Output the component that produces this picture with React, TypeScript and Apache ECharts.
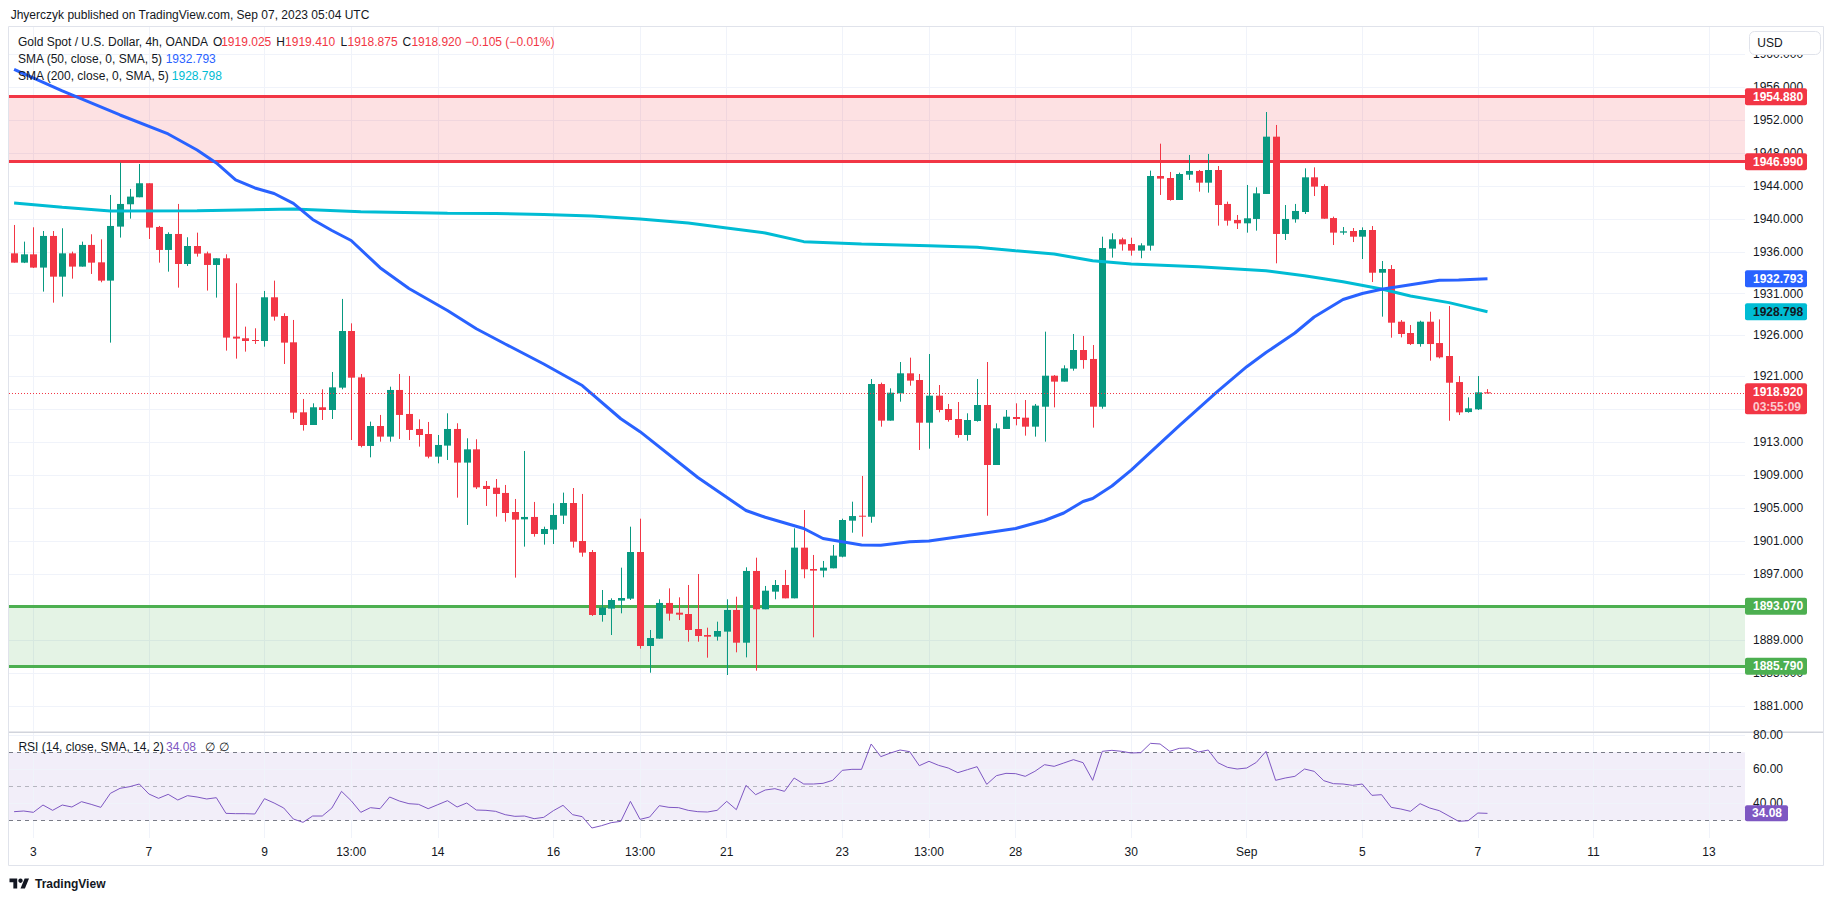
import React, { useEffect, useRef } from 'react';
import * as echarts from 'echarts';

// ---------------- data (XAUUSD 4h, OANDA; bar 0 = Aug 2 17:00 UTC, last bar = Sep 7 05:00 UTC) ----------------
const opens = [1935.88,1934.75,1935.76,1934.15,1937.99,1933.05,1935.88,1934.27,1936.90,1934.79,
1932.57,1939.12,1941.83,1942.68,1944.38,1939.08,1936.29,1938.23,1934.59,1936.77,
1935.88,1934.47,1935.28,1925.78,1925.58,1925.37,1925.25,1930.55,1928.28,1925.09,
1916.60,1915.06,1917.21,1916.88,1919.59,1926.46,1920.84,1912.52,1914.94,1913.65,
1919.31,1916.40,1914.58,1913.97,1911.22,1912.56,1914.58,1910.50,1912.11,1907.67,
1907.46,1906.82,1904.51,1903.62,1903.91,1901.84,1902.37,1904.07,1905.60,1900.99,
1899.66,1892.02,1892.79,1893.76,1894.00,1899.66,1888.26,1889.15,1893.48,1892.30,
1892.14,1890.32,1889.59,1889.39,1890.00,1892.63,1888.66,1897.36,1892.71,1894.85,
1895.66,1894.04,1900.19,1897.60,1897.40,1897.68,1899.09,1903.46,1904.06,1903.94,
1920.03,1915.59,1918.90,1921.33,1920.52,1915.34,1918.62,1917.00,1915.79,1913.85,
1915.55,1917.49,1910.21,1914.58,1916.03,1915.95,1914.86,1917.28,1921.04,1920.32,
1921.89,1924.16,1923.07,1917.28,1936.45,1937.58,1937.01,1936.21,1936.81,1945.26,
1945.02,1942.35,1945.42,1945.87,1944.45,1945.99,1941.87,1939.93,1939.52,1940.05,
1943.08,1950.03,1938.23,1940.01,1940.89,1945.10,1944.05,1940.16,1938.39,1938.59,
1937.90,1938.71,1933.53,1933.98,1927.59,1926.22,1924.88,1927.59,1925.00,1923.43,
1920.27,1916.63,1916.96,1919.025];

const highs = [1939.32,1937.30,1939.04,1938.59,1938.59,1938.92,1936.09,1937.30,1938.19,1937.58,
1942.96,1946.88,1943.69,1946.72,1944.38,1939.20,1938.43,1941.87,1937.83,1938.39,
1936.09,1935.28,1935.76,1932.25,1926.99,1926.79,1931.32,1932.57,1928.61,1927.80,
1918.22,1917.69,1919.39,1921.49,1930.35,1927.39,1921.25,1915.47,1916.28,1919.71,
1921.25,1921.01,1915.75,1915.43,1913.85,1916.48,1915.27,1913.45,1913.33,1908.27,
1908.51,1907.79,1906.09,1911.91,1905.73,1902.73,1905.56,1906.86,1907.42,1906.70,
1899.90,1895.05,1894.04,1897.76,1902.73,1903.70,1890.20,1893.92,1895.25,1894.16,
1895.66,1896.99,1890.48,1891.21,1893.92,1894.24,1897.80,1898.97,1895.54,1896.26,
1897.48,1902.53,1904.75,1899.30,1898.57,1900.51,1903.70,1905.76,1908.88,1920.64,
1920.20,1919.51,1922.70,1923.23,1921.25,1923.67,1919.91,1917.61,1917.85,1916.48,
1920.64,1922.70,1915.26,1916.88,1917.69,1918.09,1917.61,1926.38,1921.12,1922.30,
1926.10,1925.86,1924.76,1937.90,1938.31,1937.78,1937.78,1937.10,1945.91,1949.18,
1945.75,1945.67,1947.81,1945.99,1947.93,1946.47,1942.15,1940.53,1944.17,1943.89,
1953.02,1951.45,1941.74,1941.87,1946.19,1946.31,1944.25,1940.33,1939.07,1938.95,
1939.03,1939.19,1934.95,1934.46,1927.79,1927.19,1927.71,1928.80,1927.87,1929.49,
1921.00,1918.41,1921.00,1919.41];

const lows = [1934.75,1934.70,1934.10,1931.24,1929.90,1930.63,1932.81,1934.27,1933.38,1932.37,
1925.05,1937.79,1940.09,1942.68,1937.62,1934.75,1933.66,1931.72,1934.35,1935.48,
1931.36,1930.51,1924.08,1923.11,1923.96,1924.89,1924.56,1927.72,1922.46,1915.79,
1914.38,1915.06,1915.67,1915.79,1919.39,1913.24,1912.35,1911.14,1913.04,1913.04,
1913.37,1913.24,1912.44,1911.02,1910.41,1910.82,1906.25,1902.94,1907.30,1905.24,
1903.95,1903.34,1896.55,1900.31,1901.52,1900.55,1900.63,1903.06,1900.19,1899.09,
1891.90,1891.21,1889.59,1892.22,1893.84,1887.94,1885.02,1889.15,1891.33,1891.41,
1888.78,1888.78,1886.84,1888.91,1884.74,1887.49,1886.88,1885.27,1892.71,1893.92,
1894.04,1894.04,1896.47,1889.31,1896.59,1897.68,1899.01,1902.00,1901.52,1903.21,
1914.86,1915.59,1917.89,1919.83,1912.03,1912.19,1916.60,1915.47,1913.52,1913.16,
1915.47,1904.06,1910.21,1914.58,1915.02,1913.77,1913.65,1913.04,1917.20,1920.32,
1921.65,1921.89,1914.74,1917.04,1935.36,1936.21,1935.60,1935.28,1936.21,1942.96,
1942.27,1942.35,1944.78,1943.36,1943.24,1939.24,1939.24,1938.83,1938.39,1938.63,
1943.08,1934.67,1937.50,1939.60,1940.65,1942.83,1940.08,1936.89,1938.14,1937.25,
1935.19,1932.40,1928.20,1925.65,1925.69,1924.76,1924.56,1922.86,1923.14,1915.58,
1916.27,1916.55,1916.88,1918.875];

const closes = [1934.75,1935.76,1934.15,1937.99,1933.05,1935.88,1934.27,1936.90,1934.75,1932.57,
1939.20,1941.87,1942.76,1944.38,1939.00,1936.29,1938.23,1934.59,1936.77,1935.84,
1934.47,1935.28,1925.66,1925.54,1925.25,1925.25,1930.55,1928.20,1925.05,1916.56,
1915.06,1917.21,1916.88,1919.63,1926.46,1920.80,1912.52,1914.94,1913.65,1919.31,
1916.28,1914.46,1913.85,1911.22,1912.64,1914.58,1910.50,1912.11,1907.50,1907.30,
1906.70,1904.39,1903.58,1903.91,1901.84,1902.45,1904.15,1905.60,1900.91,1899.58,
1892.02,1892.91,1893.84,1894.08,1899.66,1888.26,1889.23,1893.48,1892.18,1892.06,
1890.20,1889.47,1889.39,1890.08,1892.63,1888.66,1897.36,1892.71,1894.97,1895.66,
1894.04,1900.19,1897.56,1897.40,1897.76,1899.22,1903.54,1904.02,1903.94,1920.03,
1915.59,1918.98,1921.33,1920.44,1915.34,1918.62,1916.88,1915.67,1913.85,1915.67,
1917.49,1910.21,1914.66,1916.07,1915.79,1914.86,1917.41,1921.04,1920.32,1921.93,
1924.16,1922.94,1917.28,1936.53,1937.58,1936.97,1936.21,1936.85,1945.26,1944.94,
1942.35,1945.50,1945.87,1944.45,1945.99,1941.74,1939.84,1939.52,1940.13,1943.16,
1950.03,1938.23,1940.05,1941.02,1945.10,1943.97,1940.08,1938.39,1938.55,1937.90,
1938.71,1933.53,1933.98,1927.47,1926.10,1924.88,1927.59,1924.88,1923.27,1920.19,
1916.59,1917.08,1919.02,1918.92];

// SMA 50 / SMA 200 at these bars
const sma50Bars = [0,5,11,16,19,21,23,25,27,29,31,33,35,38,41,43,45,48,51,55,59,63,65,71,76,78,82,84,88,90,93,95,101,104,107,109,111,112,114,116,119,121,125,128,130,133,135,138,140,142,145,148,150,153];
const sma50Values = [1958.2,1955.57,1952.66,1950.36,1948.42,1946.84,1944.78,1943.81,1943.14,1941.95,1939.99,1938.65,1937.44,1934.14,1931.61,1930.28,1928.95,1926.73,1924.89,1922.46,1919.85,1915.82,1914.25,1908.69,1904.69,1903.87,1902.51,1901.3,1900.51,1900.47,1900.91,1900.99,1902.0,1902.51,1903.48,1904.39,1905.78,1906.15,1907.66,1909.6,1912.84,1914.99,1919.18,1922.13,1923.85,1926.22,1928.16,1930.28,1931.01,1931.52,1932.07,1932.62,1932.65,1932.79];
const sma200Bars = [0,5,10,19,29,36,45,50,55,60,65,70,74,78,82,88,95,100,104,108,112,116,123,130,134,138,142,145,149,153];
const sma200Values = [1941.99,1941.47,1941.02,1941.05,1941.26,1940.93,1940.74,1940.71,1940.59,1940.41,1940.05,1939.56,1938.96,1938.35,1937.3,1937.02,1936.81,1936.62,1936.2,1935.8,1934.99,1934.59,1934.26,1933.78,1933.17,1932.44,1931.56,1930.71,1929.9,1928.8];

// RSI(14), one value per bar
const rsiValues = [35.07,35.47,34.68,38.99,35.86,38.99,37.82,40.96,39.39,37.62,
45.86,48.8,49.78,51.35,45.47,42.92,45.27,41.94,44.49,43.7,
42.53,43.31,34.09,33.9,33.9,33.7,42.72,40.17,37.23,30.76,
28.8,32.52,32.52,37.23,47.04,41.54,34.68,37.43,36.84,43.7,
41.35,39.78,39.39,36.84,39.19,41.54,37.82,40.17,36.05,35.86,
35.27,33.31,32.33,32.52,30.96,31.74,35.66,38.8,33.31,32.13,
25.47,26.84,28.6,29.39,41.15,30.56,31.94,38.6,37.62,37.43,
35.86,35.07,34.88,35.86,41.15,36.25,50.56,45.07,47.82,48.6,
47.04,54.88,51.35,51.35,51.74,53.51,59.39,59.98,59.98,74.88,
67.43,69.58,71.35,70.37,62.13,64.68,62.33,60.76,58.02,59.78,
61.54,51.15,56.25,57.62,57.43,55.86,58.8,62.72,61.74,63.7,
65.67,63.9,53.51,70.57,71.15,70.57,69.58,69.78,75.27,74.88,
70.57,72.33,72.53,70.17,71.35,63.9,61.15,60.17,60.76,64.09,
70.57,53.51,54.88,55.86,60.17,58.8,53.31,51.55,51.35,50.56,
51.35,44.68,45.07,37.62,36.64,35.27,39.78,37.23,35.66,32.52,
29.39,29.78,34.29,34.08];

const priceTicks = [1960,1956,1952,1948,1944,1940,1936,1931,1926,1921,1917,1913,1909,1905,1901,1897,1893,1889,1885,1881];
const priceTickLabelValues = [1960,1956,1952,1948,1944,1940,1936,1931,1926,1921,1913,1909,1905,1901,1897,1889,1885,1881];
const rsiTicks = [80, 60, 40];
const rsiLevels = [70, 50, 30];
const timeLabelBars = [2,14,26,35,44,56,65,74,86,95,104,116,128,140,152,164,176];
const timeLabels = ['3','7','9','13:00','14','16','13:00','21','23','13:00','28','30','Sep','5','7','11','13'];

const resistanceZone = [1946.99, 1954.88];
const supportZone = [1885.79, 1893.07];
const lastOHLC = { o: '1919.025', h: '1919.410', l: '1918.875', c: '1918.920', chg: '\u22120.105 (\u22120.01%)' };
const lastPrice = 1918.92;
const lastSma50 = 1932.793;
const lastSma200 = 1928.798;
const lastRsi = 34.08;

// ---------------- style / layout ----------------
const UP = '#089981';
const DOWN = '#F23645';
const BLUE = '#2962FF';
const CYAN = '#00BCD4';
const GREEN = '#4CAF50';
const PURPLE = '#7E57C2';
const TEXT = '#131722';
const GRID = '#F0F3FA';
const FONT = '"Liberation Sans", Arial, sans-serif';
const f12 = `12px ${FONT}`;
const f12b = `bold 12px ${FONT}`;

const XMIN = -0.5296;
const XMAX = 179.74;
const PMIN = 1877.95;
const PMAX = 1963.33;
const RMIN = 19.59;
const RMAX = 81.35;

const TV_D = 'M14 22H7V11H0V4h14v18zM28 22h-8l7.5-18h8L28 22z';
echarts.graphic.registerShape('tvlogo', echarts.graphic.extendPath(TV_D, {}));

function txt(x: number, y: number, text: string, fill = TEXT, font = f12, align = 'left', z = 100) {
  return {
    type: 'text', x, y, z, silent: true,
    style: { text, fill, font, align, textAlign: align, verticalAlign: 'middle', textVerticalAlign: 'middle' },
  };
}

export default function App() {
  const ref = useRef<HTMLDivElement>(null);

  useEffect(() => {
    const chart = echarts.init(ref.current!, null, { renderer: 'svg' });

    const candleData = opens.map((o, i) => [i, o, highs[i], lows[i], closes[i]]);
    const sma50 = sma50Bars.map((b, k) => [b, sma50Values[k]]);
    const sma200 = sma200Bars.map((b, k) => [b, sma200Values[k]]);
    const rsi = rsiValues.map((v, i) => [i, v]);

    const vLines = timeLabelBars.map((b) => ({ xAxis: b }));

    chart.setOption({
      animation: false,
      backgroundColor: '#ffffff',
      grid: [
        { left: 9, top: 27, width: 1736, height: 704 },
        { left: 9, top: 733, width: 1736, height: 105 },
      ],
      xAxis: [
        { type: 'value', gridIndex: 0, min: XMIN, max: XMAX, show: false },
        { type: 'value', gridIndex: 1, min: XMIN, max: XMAX, show: false },
      ],
      yAxis: [
        { type: 'value', gridIndex: 0, min: PMIN, max: PMAX, show: false },
        { type: 'value', gridIndex: 1, min: RMIN, max: RMAX, show: false },
      ],
      series: [
        {
          name: 'priceGrid', type: 'line', xAxisIndex: 0, yAxisIndex: 0, z: 1, silent: true,
          data: [[0, 1900]], symbol: 'none', lineStyle: { opacity: 0 },
          markLine: {
            z: 1, silent: true, symbol: ['none', 'none'], label: { show: false },
            lineStyle: { color: GRID, width: 1, type: 'solid' },
            data: [...priceTicks.map((v) => ({ yAxis: v })), ...vLines],
          },
        },
        {
          name: 'zones', type: 'line', xAxisIndex: 0, yAxisIndex: 0, z: 2, silent: true,
          data: [[0, 1900]], symbol: 'none', lineStyle: { opacity: 0 },
          markArea: {
            z: 2, silent: true,
            data: [
              [{ xAxis: XMIN, yAxis: resistanceZone[1], itemStyle: { color: 'rgba(242,54,69,0.15)' } }, { xAxis: XMAX, yAxis: resistanceZone[0] }],
              [{ xAxis: XMIN, yAxis: supportZone[1], itemStyle: { color: 'rgba(76,175,80,0.15)' } }, { xAxis: XMAX, yAxis: supportZone[0] }],
            ],
          },
          markLine: {
            z: 2, silent: true, symbol: ['none', 'none'], label: { show: false },
            data: [
              { yAxis: resistanceZone[1], lineStyle: { color: DOWN, width: 3, type: 'solid' } },
              { yAxis: resistanceZone[0], lineStyle: { color: DOWN, width: 3, type: 'solid' } },
              { yAxis: supportZone[1], lineStyle: { color: GREEN, width: 3, type: 'solid' } },
              { yAxis: supportZone[0], lineStyle: { color: GREEN, width: 3, type: 'solid' } },
            ],
          },
        },
        {
          name: 'candles', type: 'custom', xAxisIndex: 0, yAxisIndex: 0, z: 3, silent: true,
          data: candleData,
          encode: { x: 0, y: [1, 2, 3, 4] },
          renderItem: (params: any, api: any) => {
            const i = api.value(0);
            const o = api.value(1), h = api.value(2), l = api.value(3), c = api.value(4);
            const po = api.coord([i, o]);
            const x = Math.round(po[0]);
            const yo = po[1];
            const yh = api.coord([i, h])[1];
            const yl = api.coord([i, l])[1];
            const yc = api.coord([i, c])[1];
            const col = c >= o ? UP : DOWN;
            const top = Math.min(yo, yc);
            const bh = Math.max(1, Math.abs(yc - yo));
            return {
              type: 'group',
              children: [
                { type: 'line', shape: { x1: x + 0.5, y1: yh, x2: x + 0.5, y2: yl }, style: { stroke: col, lineWidth: 1 } },
                { type: 'rect', shape: { x: x - 3, y: top, width: 7, height: bh }, style: { fill: col } },
              ],
            };
          },
        },
        {
          name: 'SMA200', type: 'line', xAxisIndex: 0, yAxisIndex: 0, z: 4, silent: true,
          data: sma200, symbol: 'none', smooth: false,
          lineStyle: { color: CYAN, width: 3 },
        },
        {
          name: 'SMA50', type: 'line', xAxisIndex: 0, yAxisIndex: 0, z: 4, silent: true,
          data: sma50, symbol: 'none', smooth: false,
          lineStyle: { color: BLUE, width: 3 },
        },
        {
          name: 'lastPrice', type: 'line', xAxisIndex: 0, yAxisIndex: 0, z: 5, silent: true,
          data: [[0, 1900]], symbol: 'none', lineStyle: { opacity: 0 },
          markLine: {
            z: 5, silent: true, symbol: ['none', 'none'], label: { show: false },
            lineStyle: { color: DOWN, width: 1, type: [1, 2] },
            data: [{ yAxis: lastPrice }],
          },
        },
        {
          name: 'rsiGrid', type: 'line', xAxisIndex: 1, yAxisIndex: 1, z: 1, silent: true,
          data: [[0, 50]], symbol: 'none', lineStyle: { opacity: 0 },
          markArea: {
            z: 1, silent: true,
            data: [[{ xAxis: XMIN, yAxis: rsiLevels[0], itemStyle: { color: 'rgba(126,87,194,0.1)' } }, { xAxis: XMAX, yAxis: rsiLevels[2] }]],
          },
          markLine: {
            z: 1, silent: true, symbol: ['none', 'none'], label: { show: false },
            lineStyle: { color: GRID, width: 1, type: 'solid' },
            data: [
              ...rsiTicks.map((v) => ({ yAxis: v })),
              ...vLines,
              { yAxis: rsiLevels[0], lineStyle: { color: '#787B86', width: 1, type: [4, 4] } },
              { yAxis: rsiLevels[1], lineStyle: { color: 'rgba(120,123,134,0.5)', width: 1, type: [4, 4] } },
              { yAxis: rsiLevels[2], lineStyle: { color: '#787B86', width: 1, type: [4, 4] } },
            ],
          },
        },
        {
          name: 'RSI', type: 'line', xAxisIndex: 1, yAxisIndex: 1, z: 3, silent: true,
          data: rsi, symbol: 'none', smooth: false,
          lineStyle: { color: PURPLE, width: 1 },
        },
      ],
    });

    const P = (i: number, v: number) => chart.convertToPixel({ gridIndex: 0 }, [i, v]) as number[];
    const R = (i: number, v: number) => chart.convertToPixel({ gridIndex: 1 }, [i, v]) as number[];

    const g: any[] = [];
    // frame
    g.push({ type: 'rect', z: 90, silent: true, shape: { x: 8.5, y: 26.5, width: 1815, height: 839 }, style: { fill: 'none', stroke: '#E0E3EB', lineWidth: 1 } });
    g.push({ type: 'rect', z: 90, silent: true, shape: { x: 9, y: 731.5, width: 1814, height: 1.5 }, style: { fill: '#D1D4DC' } });

    // header
    g.push(txt(10.7, 15, 'Jhyerczyk published on TradingView.com, Sep 07, 2023 05:04 UTC'));
    // legends
    g.push(txt(18, 42.3, 'Gold Spot / U.S. Dollar, 4h, OANDA'));
    g.push(txt(213, 42.3, 'O'));
    g.push(txt(221.2, 42.3, lastOHLC.o, DOWN));
    g.push(txt(276.3, 42.3, 'H'));
    g.push(txt(285.1, 42.3, lastOHLC.h, DOWN));
    g.push(txt(340.6, 42.3, 'L'));
    g.push(txt(347.5, 42.3, lastOHLC.l, DOWN));
    g.push(txt(402.6, 42.3, 'C'));
    g.push(txt(411.4, 42.3, lastOHLC.c, DOWN));
    g.push(txt(465, 42.3, lastOHLC.chg, DOWN));
    g.push(txt(18, 59, 'SMA (50, close, 0, SMA, 5)'));
    g.push(txt(165.7, 59, lastSma50.toFixed(3), BLUE));
    g.push(txt(18, 76, 'SMA (200, close, 0, SMA, 5)'));
    g.push(txt(171.8, 76, lastSma200.toFixed(3), CYAN));

    // price scale labels
    priceTickLabelValues.forEach((v) => {
      const y = P(0, v)[1];
      g.push(txt(1753, y, v.toFixed(3)));
    });
    // USD box (covers the top label)
    g.push({ type: 'rect', z: 120, silent: true, shape: { x: 1749.5, y: 31.5, width: 71, height: 23, r: 5 }, style: { fill: '#ffffff', stroke: '#E0E3EB', lineWidth: 1 } });
    g.push(txt(1757.3, 43, 'USD', TEXT, f12, 'left', 121));

    const boxes = [
      { v: resistanceZone[1], bg: DOWN, fg: '#ffffff' },
      { v: resistanceZone[0], bg: DOWN, fg: '#ffffff' },
      { v: lastSma50, bg: BLUE, fg: '#ffffff' },
      { v: lastSma200, bg: CYAN, fg: TEXT },
      { v: supportZone[1], bg: GREEN, fg: '#ffffff' },
      { v: supportZone[0], bg: GREEN, fg: '#ffffff' },
    ];
    boxes.forEach((b) => {
      const y = P(0, b.v)[1];
      g.push({ type: 'rect', z: 110, silent: true, shape: { x: 1745, y: y - 8.5, width: 62, height: 17, r: 2 }, style: { fill: b.bg } });
      g.push(txt(1753, y, b.v.toFixed(3), b.fg, f12b, 'left', 111));
    });
    {
      const y = P(0, lastPrice)[1];
      g.push({ type: 'rect', z: 110, silent: true, shape: { x: 1745, y: y - 10, width: 62, height: 31, r: 2 }, style: { fill: DOWN } });
      g.push(txt(1753, y - 1, lastPrice.toFixed(3), '#ffffff', f12b, 'left', 111));
      g.push(txt(1753, y + 13.5, '03:55:09', 'rgba(255,255,255,0.75)', f12b, 'left', 111));
    }

    // RSI scale
    rsiTicks.forEach((v) => {
      const y = R(0, v)[1];
      g.push(txt(1753, y, v.toFixed(2)));
    });
    {
      const y = R(0, lastRsi)[1];
      g.push({ type: 'rect', z: 110, silent: true, shape: { x: 1745, y: y - 8, width: 43, height: 16, r: 2 }, style: { fill: PURPLE } });
      g.push(txt(1752, y, lastRsi.toFixed(2), '#ffffff', f12b, 'left', 111));
    }
    g.push(txt(18.4, 747, 'RSI (14, close, SMA, 14, 2)'));
    g.push(txt(166, 747, lastRsi.toFixed(2), PURPLE));
    g.push(txt(205, 747, '\u2205'));
    g.push(txt(219, 747, '\u2205'));

    // time labels
    timeLabelBars.forEach((b, k) => {
      const x = R(b, 50)[0];
      g.push(txt(x, 852, timeLabels[k], TEXT, f12, 'center'));
    });

    // TradingView logo
    g.push({ type: 'tvlogo', z: 100, silent: true, x: 9.5, y: 876.3, scaleX: 0.55, scaleY: 0.55, style: { fill: TEXT } });
    g.push({ type: 'circle', z: 100, silent: true, shape: { cx: 9.5 + 20 * 0.55, cy: 876.3 + 8 * 0.55, r: 4 * 0.55 }, style: { fill: TEXT } });
    g.push(txt(35, 883.5, 'TradingView', TEXT, f12b));

    chart.setOption({ graphic: { elements: g } });

    return () => chart.dispose();
  }, []);

  return <div ref={ref} style={{ position: 'absolute', left: 0, top: 0, width: 1835, height: 901 }} />;
}
